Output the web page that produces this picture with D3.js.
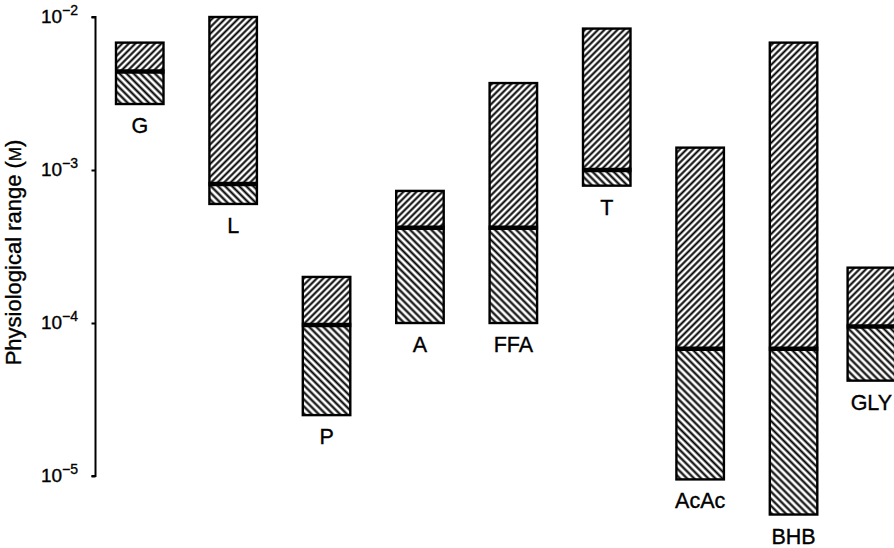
<!DOCTYPE html>
<html>
<head>
<meta charset="utf-8">
<script src="https://cdn.jsdelivr.net/npm/d3@7"></script>
<style>
  html, body { margin: 0; padding: 0; background: #fff; }
  svg { display: block; }
  text { font-family: "Liberation Sans", Arial, Helvetica, sans-serif; fill: #000; stroke: #000; stroke-width: 0.35px; }
</style>
</head>
<body>
<svg id="chart" width="894" height="548"></svg>
<script>
// ---- data (molar concentrations) ----
const categories = ["G", "L", "P", "A", "FFA", "T", "AcAc", "BHB", "GLY"];
const lowValues  = [2.7e-3, 6.0e-4, 2.5e-5, 1.0e-4, 1.0e-4, 7.9e-4, 9.5e-6, 5.6e-6, 4.2e-5];
const midValues  = [4.4e-3, 8.1e-4, 9.7e-5, 4.2e-4, 4.2e-4, 1.0e-3, 6.8e-5, 6.8e-5, 9.5e-5];
const highValues = [6.8e-3, 1.0e-2, 2.0e-4, 7.3e-4, 3.7e-3, 8.4e-3, 1.4e-3, 6.8e-3, 2.3e-4];
const tickValues = [1e-2, 1e-3, 1e-4, 1e-5];
const tickExponents = ["−2", "−3", "−4", "−5"];
const yAxisTitle = "Physiological range";
const yAxisUnit = "M";

const data = categories.map((c, i) => ({ name: c, low: lowValues[i], mid: midValues[i], high: highValues[i] }));

// ---- layout ----
const svg = d3.select("#chart");
const axisX = 95.5;
const step = 93.4;
const barW = 47.5;
const firstBarX = 116;

const y = d3.scaleLog().domain([1e-5, 1e-2]).range([476, 17]);
const x = d3.scaleBand()
  .domain(categories)
  .range([firstBarX - (step - barW) / 2, firstBarX - (step - barW) / 2 + categories.length * step])
  .paddingInner(1 - barW / step)
  .paddingOuter((1 - barW / step) / 2);
// the last group sits closer to its neighbour in the original figure
const lastPull = step * 0.167;
const xPos = name => x(name) - (name === categories[categories.length - 1] ? lastPull : 0);

// ---- hatch patterns ----
const defs = svg.append("defs");
function hatch(id, angle, spacing, sw) {
  const p = defs.append("pattern")
    .attr("id", id)
    .attr("patternUnits", "userSpaceOnUse")
    .attr("width", spacing)
    .attr("height", spacing)
    .attr("patternTransform", `rotate(${angle})`);
  p.append("rect").attr("width", spacing).attr("height", spacing).attr("fill", "#fff");
  p.append("rect")
    .attr("x", (spacing - sw) / 2).attr("y", 0)
    .attr("width", sw).attr("height", spacing)
    .attr("fill", "#000");
}
hatch("hatchUp", 45, 4.6, 2.0);
hatch("hatchDown", -45, 5.0, 2.1);

// ---- y axis ----
const yAxis = d3.axisLeft(y)
  .tickValues(tickValues)
  .tickSize(4)
  .tickPadding(0)
  .tickFormat(() => "");
const gAxis = svg.append("g").attr("transform", `translate(${axisX},0)`).call(yAxis);
gAxis.select(".domain").attr("stroke", "#000").attr("stroke-width", 2)
  .attr("d", `M-4,${y(1e-2)}H0V${y(1e-5)}H-4`);
gAxis.selectAll(".tick line").attr("stroke", "#000").attr("stroke-width", 2);

const tickLabels = svg.append("g");
tickValues.forEach((v, i) => {
  const t = tickLabels.append("text")
    .attr("x", 78)
    .attr("y", y(v) + 6)
    .attr("text-anchor", "end")
    .attr("font-size", 19);
  t.append("tspan").text("10");
  t.append("tspan").attr("dy", -8).attr("font-size", 14).text(tickExponents[i]);
});

// axis title
const title = svg.append("text")
  .attr("transform", `translate(21,${(y(1e-2) + y(1e-5)) / 2 + 6}) rotate(-90)`)
  .attr("text-anchor", "middle")
  .attr("font-size", 22);
title.append("tspan").text(yAxisTitle + " (");
title.append("tspan").attr("font-size", 17).text(yAxisUnit);
title.append("tspan").text(")");

// ---- bars ----
const bars = svg.append("g").selectAll("g").data(data).join("g");

bars.append("rect")
  .attr("x", d => xPos(d.name))
  .attr("y", d => y(d.high))
  .attr("width", x.bandwidth())
  .attr("height", d => y(d.mid) - y(d.high))
  .attr("fill", "url(#hatchUp)");

bars.append("rect")
  .attr("x", d => xPos(d.name))
  .attr("y", d => y(d.mid))
  .attr("width", x.bandwidth())
  .attr("height", d => y(d.low) - y(d.mid))
  .attr("fill", "url(#hatchDown)");

bars.append("rect")
  .attr("x", d => xPos(d.name))
  .attr("y", d => y(d.high))
  .attr("width", x.bandwidth())
  .attr("height", d => y(d.low) - y(d.high))
  .attr("fill", "none")
  .attr("stroke", "#000")
  .attr("stroke-width", 2.4);

bars.append("line")
  .attr("x1", d => xPos(d.name) - 1)
  .attr("x2", d => xPos(d.name) + x.bandwidth() + 1)
  .attr("y1", d => y(d.mid))
  .attr("y2", d => y(d.mid))
  .attr("stroke", "#000")
  .attr("stroke-width", 4.5);

bars.append("text")
  .attr("x", d => xPos(d.name) + x.bandwidth() / 2)
  .attr("y", d => y(d.low) + 29)
  .attr("text-anchor", "middle")
  .attr("font-size", 21.5)
  .text(d => d.name);
</script>
</body>
</html>
